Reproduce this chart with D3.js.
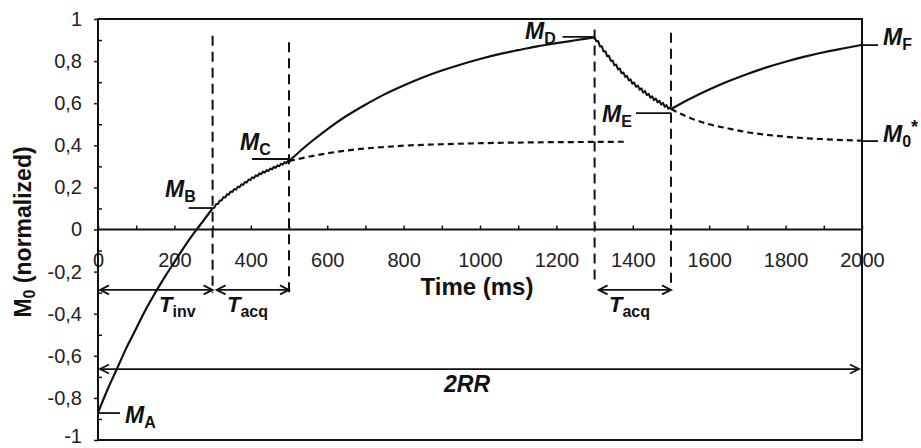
<!DOCTYPE html>
<html>
<head>
<meta charset="utf-8">
<script src="https://cdn.jsdelivr.net/npm/d3@7"></script>
<style>
  html, body { margin: 0; padding: 0; background: #fff; }
  svg { display: block; font-family: "Liberation Sans", Arial, sans-serif; }
</style>
</head>
<body>
<svg id="chart" width="921" height="448"></svg>
<script>
// ---- data ----
const xTickValues = [0, 200, 400, 600, 800, 1000, 1200, 1400, 1600, 1800, 2000];
const xTickLabels = ["0", "200", "400", "600", "800", "1000", "1200", "1400", "1600", "1800", "2000"];
const yTickValues = [-1, -0.8, -0.6, -0.4, -0.2, 0, 0.2, 0.4, 0.6, 0.8, 1];
const yTickLabels = ["-1", "-0,8", "-0,6", "-0,4", "-0,2", "0", "0,2", "0,4", "0,6", "0,8", "1"];

// inversion recovery (solid)
const invT = [0, 25, 50, 75, 100, 125, 150, 175, 200, 225, 250, 275, 300];
const invM = [-0.87, -0.76, -0.66, -0.56, -0.47, -0.38, -0.30, -0.225, -0.155, -0.085, -0.02, 0.04, 0.10];
// first acquisition (solid, pulsed)
const acq1T = [300, 325, 350, 375, 400, 425, 450, 475, 500];
const acq1M = [0.10, 0.145, 0.18, 0.21, 0.24, 0.265, 0.285, 0.305, 0.325];
// free recovery (solid)
const rec1T = [500, 550, 600, 650, 700, 750, 800, 850, 900, 950, 1000, 1050, 1100, 1150, 1200, 1250, 1300];
const rec1M = [0.325, 0.405, 0.476, 0.539, 0.593, 0.642, 0.684, 0.722, 0.755, 0.784, 0.810, 0.833, 0.852, 0.870, 0.885, 0.899, 0.913];
// second acquisition (solid, pulsed)
const acq2T = [1300, 1325, 1350, 1375, 1400, 1425, 1450, 1475, 1500];
const acq2M = [0.913, 0.848, 0.790, 0.740, 0.697, 0.660, 0.627, 0.599, 0.572];
// free recovery (solid)
const rec2T = [1500, 1550, 1600, 1650, 1700, 1750, 1800, 1850, 1900, 1950, 2000];
const rec2M = [0.572, 0.621, 0.665, 0.704, 0.739, 0.770, 0.797, 0.821, 0.842, 0.860, 0.877];
// continued acquisition (dashed)
const dash1T = [500, 550, 600, 650, 700, 750, 800, 900, 1000, 1100, 1200, 1300, 1380];
const dash1M = [0.325, 0.345, 0.362, 0.375, 0.385, 0.392, 0.398, 0.405, 0.410, 0.413, 0.415, 0.416, 0.417];
const dash2T = [1500, 1550, 1600, 1650, 1700, 1750, 1800, 1850, 1900, 1950, 2000];
const dash2M = [0.572, 0.530, 0.500, 0.480, 0.462, 0.450, 0.441, 0.434, 0.429, 0.425, 0.422];

// vertical dashed markers: time, top value, bottom value
const vlineT = [300, 500, 1300, 1500];
const vlineTop = [0.92, 0.89, 0.95, 0.935];
const vlineBot = [-0.30, -0.30, -0.255, -0.28];

// interval arrows
const arrowNames = ["inv", "acq", "acq", "2RR"];
const arrowStart = [0, 300, 1300, 0];
const arrowEnd = [300, 500, 1500, 2000];
const arrowLevel = [-0.287, -0.287, -0.287, -0.663];

// point labels
const labelSub = ["A", "B", "C", "D", "E", "F", "0"];
const labelT = [0, 300, 500, 1300, 1500, 2000, 2000];
const labelM = [-0.872, 0.102, 0.335, 0.915, 0.553, 0.876, 0.42];

// ---- drawing ----
const svg = d3.select("#chart");
const W = 921, H = 448;
const m = { left: 98, right: 59, top: 19, bottom: 8 };
const x = d3.scaleLinear().domain([0, 2000]).range([m.left, W - m.right]);
const y = d3.scaleLinear().domain([-1, 1]).range([H - m.bottom, m.top]);
const ink = "#111";

// y axis: major outward ticks with labels, minor inward ticks
const yAxis = d3.axisLeft(y).tickValues(yTickValues)
  .tickFormat((d, i) => yTickLabels[i]).tickSize(4).tickPadding(12);
const gy = svg.append("g").attr("transform", `translate(${m.left},0)`).call(yAxis);
gy.select(".domain").remove();
gy.selectAll("line").attr("stroke", ink).attr("stroke-width", 1.5);
gy.selectAll("text").attr("font-size", 20).attr("fill", "#222")
  .attr("font-family", "Liberation Sans, Arial, sans-serif");
gy.selectAll("text").filter(d => d === -1).attr("dy", "0.12em");

const minorY = d3.range(-9, 10, 2).map(v => v / 10);
const gym = svg.append("g").attr("transform", `translate(${m.left},0)`)
  .call(d3.axisLeft(y).tickValues(minorY).tickSize(-4).tickFormat(""));
gym.select(".domain").remove();
gym.selectAll("line").attr("stroke", ink).attr("stroke-width", 1.5);

// x axis on the zero line
const xMinor = d3.range(0, 2001, 100);
const xAxis = d3.axisBottom(x).tickValues(xMinor)
  .tickFormat(d => { const i = xTickValues.indexOf(d); return i >= 0 ? xTickLabels[i] : ""; })
  .tickSize(-4).tickPadding(23);
const gx = svg.append("g").attr("transform", `translate(0,${y(0)})`).call(xAxis);
gx.select(".domain").remove();
gx.selectAll("line").attr("stroke", ink).attr("stroke-width", 1.5);
gx.selectAll("text").attr("font-size", 20).attr("fill", "#222")
  .attr("font-family", "Liberation Sans, Arial, sans-serif");

// frame and zero line
svg.append("rect").attr("x", x(0)).attr("y", y(1))
  .attr("width", x(2000) - x(0)).attr("height", y(-1) - y(1))
  .attr("fill", "none").attr("stroke", ink).attr("stroke-width", 2);
svg.append("line").attr("x1", x(0)).attr("x2", x(2000)).attr("y1", y(0)).attr("y2", y(0))
  .attr("stroke", ink).attr("stroke-width", 2);

// axis titles
const yTitle = svg.append("text")
  .attr("transform", `translate(31,232) rotate(-90)`)
  .attr("text-anchor", "middle").attr("font-size", 23).attr("font-weight", "bold").attr("fill", ink);
yTitle.append("tspan").text("M");
yTitle.append("tspan").attr("font-size", 16).attr("dy", 4).text("0");
yTitle.append("tspan").attr("dy", -4).text(" (normalized)");

svg.append("text").attr("x", 477).attr("y", 295).attr("text-anchor", "middle")
  .attr("font-size", 24).attr("font-weight", "bold").attr("fill", ink).text("Time (ms)");

// vertical dashed lines
vlineT.forEach((t, i) => {
  svg.append("line").attr("x1", x(t)).attr("x2", x(t))
    .attr("y1", y(vlineTop[i])).attr("y2", y(vlineBot[i]))
    .attr("stroke", ink).attr("stroke-width", 2).attr("stroke-dasharray", "10,6");
});

// curves
const line = d3.line().x(d => x(d[0])).y(d => y(d[1])).curve(d3.curveMonotoneX);
const zip = (T, M) => T.map((t, i) => [t, M[i]]);

function drawSmooth(T, M, dash) {
  svg.append("path").attr("d", line(zip(T, M)))
    .attr("fill", "none").attr("stroke", ink).attr("stroke-width", 2.2)
    .attr("stroke-dasharray", dash || null);
}
function drawPulsed(T, M, amp, step) {
  const interp = d3.scaleLinear().domain(T).range(M);
  const p0 = x(T[0]), p1 = x(T[T.length - 1]);
  const pts = [];
  let i = 0;
  for (let px = p0; px <= p1 + 0.01; px += step, i++) {
    const v = interp(x.invert(Math.min(px, p1)));
    const off = (i === 0) ? 0 : (i % 2 ? amp : -amp);
    pts.push([px, y(v) + off]);
  }
  pts.push([p1, y(M[M.length - 1])]);
  svg.append("path").attr("d", d3.line()(pts))
    .attr("fill", "none").attr("stroke", ink).attr("stroke-width", 2)
    .attr("stroke-linejoin", "round");
}

drawSmooth(dash1T, dash1M, "6,4");
drawSmooth(dash2T, dash2M, "6,4");
drawSmooth(invT, invM);
drawPulsed(acq1T, acq1M, 0.9, 1.8);
drawSmooth(rec1T, rec1M);
drawPulsed(acq2T, acq2M, 1.4, 1.8);
drawSmooth(rec2T, rec2M);

// interval arrows
function arrow(x1, x2, yy) {
  svg.append("line").attr("x1", x1).attr("x2", x2).attr("y1", yy).attr("y2", yy)
    .attr("stroke", ink).attr("stroke-width", 1.8);
  const h = 9, w = 4.5;
  svg.append("path").attr("d", `M${x1 + h},${yy - w}L${x1},${yy}L${x1 + h},${yy + w}`)
    .attr("fill", "none").attr("stroke", ink).attr("stroke-width", 1.8);
  svg.append("path").attr("d", `M${x2 - h},${yy - w}L${x2},${yy}L${x2 - h},${yy + w}`)
    .attr("fill", "none").attr("stroke", ink).attr("stroke-width", 1.8);
}
const insetL = [2, 4, 4, 2], insetR = [0, 0, 0, 3];
arrowNames.forEach((n, i) => arrow(x(arrowStart[i]) + insetL[i], x(arrowEnd[i]) - insetR[i], y(arrowLevel[i])));

function tLabel(px, by, sub) {
  const t = svg.append("text").attr("x", px).attr("y", by).attr("fill", ink).attr("font-weight", "bold");
  t.append("tspan").attr("font-style", "italic").attr("font-size", 22).text("T");
  t.append("tspan").attr("font-size", 16).attr("dy", 5).text(sub);
}
tLabel(159, 312, "inv");
tLabel(227, 312, "acq");
tLabel(609, 312, "acq");

svg.append("text").attr("x", 467).attr("y", 392).attr("text-anchor", "middle")
  .attr("font-size", 23).attr("font-weight", "bold").attr("font-style", "italic")
  .attr("fill", ink).text("2RR");

// point labels with leader lines
const lblX = [125, 165, 240, 525, 602, 883, 883];
const lblY = [423, 197, 150, 39, 122, 45, 142];
const leadL = [0, 24, 37, 32, 35, 0, 0];   // leader extends left of the point (px)
const leadR = [22, 0, 0, 0, 0, 16, 16];    // leader extends right of the point (px)
labelSub.forEach((s, i) => {
  const px = x(labelT[i]), py = y(labelM[i]);
  svg.append("line").attr("x1", px - leadL[i]).attr("x2", px + leadR[i])
    .attr("y1", py).attr("y2", py).attr("stroke", ink).attr("stroke-width", 1.8);
  const t = svg.append("text").attr("x", lblX[i]).attr("y", lblY[i]).attr("fill", ink).attr("font-weight", "bold");
  t.append("tspan").attr("font-style", "italic").attr("font-size", 23).text("M");
  t.append("tspan").attr("font-size", 16).attr("dy", 5).text(s);
  if (s === "0") t.append("tspan").attr("font-size", 18).attr("dy", -14).text("*");
});
</script>
</body>
</html>
